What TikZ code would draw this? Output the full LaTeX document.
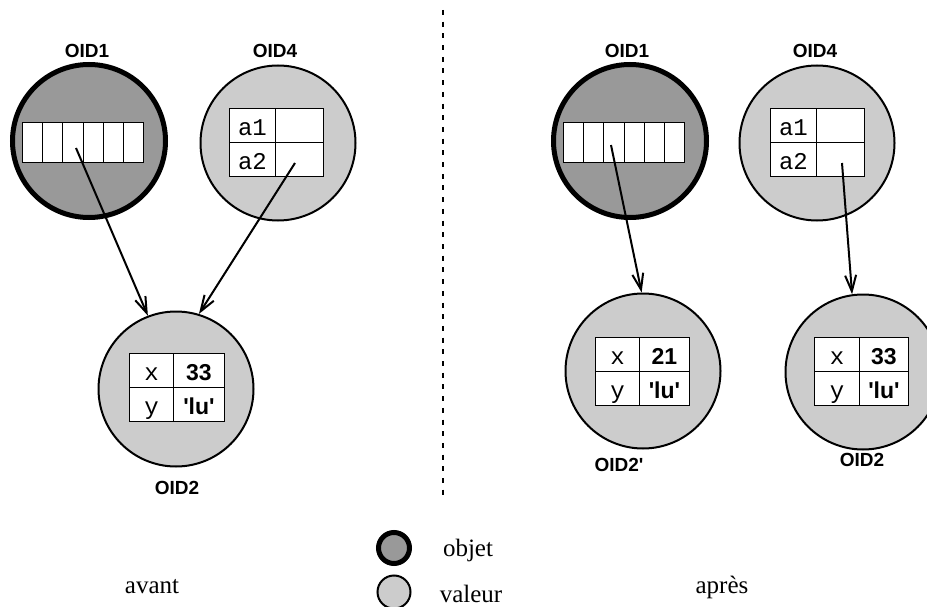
\documentclass[tikz,border=0pt]{standalone}
\usepackage{fontspec}
\setmainfont{Liberation Serif}
\setmonofont{Liberation Mono}
\newfontfamily\lsans{Liberation Sans}
\usetikzlibrary{arrows.meta}
\definecolor{objgray}{RGB}{153,153,153}
\definecolor{valgray}{RGB}{204,204,204}
\tikzset{
  objcirc/.style={circle,draw=black,line width=5pt,fill=objgray,minimum size=153pt,inner sep=0pt},
  valcirc/.style={circle,draw=black,line width=2pt,fill=valgray,minimum size=155pt,inner sep=0pt},
  cell/.style={rectangle,draw=black,line width=0.9pt,fill=white,inner sep=0pt,anchor=north west,minimum height=34pt,text height=20pt,text depth=0pt},
  acell/.style={rectangle,draw=black,line width=0.9pt,fill=white,inner sep=0pt,anchor=north west,minimum height=40pt,minimum width=20.2pt},
  lab/.style={font=\ttfamily\fontsize{24}{24}\selectfont},
  val/.style={font=\lsans\bfseries\fontsize{23}{23}\selectfont},
  oid/.style={font=\lsans\bfseries\fontsize{19}{19}\selectfont},
  txt/.style={font=\fontsize{25}{25}\selectfont,anchor=base},
  link/.style={line width=2pt,-{Straight Barb[length=16pt,width=11pt,line width=2pt]}},
  sep/.style={line width=1.2pt,dash pattern=on 5pt off 6.7pt}
}
% #1 prefix, #2 left x, #3 top y, #4 label width, #5 value width, #6 tl, #7 tv, #8 bl, #9 bv
\newcommand\mkrec[9]{%
  \node[cell,minimum width=#4pt,lab] (#1la) at (#2,#3) {#6};
  \node[cell,minimum width=#5pt,val] (#1va) at (#2+#4,#3) {#7};
  \node[cell,minimum width=#4pt,lab] (#1lb) at (#2,#3+34) {#8};
  \node[cell,minimum width=#5pt,val] (#1vb) at (#2+#4,#3+34) {#9};
}
\newcommand\mkarr[3]{%
  \foreach \k in {0,...,5}{\node[acell] (#1\k) at (#2+\k*20.2,#3) {};}
}
\begin{document}
\begin{tikzpicture}[x=1pt,y=-1pt]
\useasboundingbox (0,0) rectangle (927,607);
\begin{scope}
\clip (0,0) rectangle (927,607);
% left side (avant)
\node[objcirc] (LO1) at (89,141) {};
\node[valcirc] (LO4) at (278,143) {};
\node[valcirc] (LO2) at (176,389) {};
\mkarr{la}{22}{122}
\mkrec{lr4}{229}{108}{46}{48}{a1}{}{a2}{}
\mkrec{lr2}{129}{353}{44}{51}{x}{33}{y}{'lu'}
\node[oid] (tLO1) at (87,51) {OID1};
\node[oid] (tLO4) at (275,51) {OID4};
\node[oid] (tLO2) at (177,488) {OID2};
\coordinate (s1) at (76,148);
\coordinate (s2) at (295,163);
\draw[link] (s1) -- (LO2.111);
\draw[link] (s2) -- (LO2.73);
% separator
\coordinate (d1) at (443,10);
\coordinate (d2) at (443,497);
\draw[sep] (d1) -- (d2);
% right side (apres)
\node[objcirc] (RO1) at (630,141) {};
\node[valcirc] (RO4) at (817,143) {};
\node[valcirc] (RO2p) at (643,371) {};
\node[valcirc] (RO2) at (863,372) {};
\mkarr{ra}{563}{122}
\mkrec{rr4}{770}{108}{46}{48}{a1}{}{a2}{}
\mkrec{rr2p}{595}{337}{44}{50}{x}{21}{y}{'lu'}
\mkrec{rr2}{814}{337}{45}{49}{x}{33}{y}{'lu'}
\node[oid] (tRO1) at (627,51) {OID1};
\node[oid] (tRO4) at (815,51) {OID4};
\node[oid] (tRO2p) at (619,465) {OID2'};
\node[oid] (tRO2) at (862,460) {OID2};
\coordinate (s3) at (611,145);
\coordinate (s4) at (842,163);
\draw[link] (s3) -- (RO2p.91);
\draw[link] (s4) -- (RO2.98);
% legend
\node[circle,draw=black,line width=5pt,fill=objgray,minimum size=31pt,inner sep=0pt] (lgo) at (394,548) {};
\node[circle,draw=black,line width=2pt,fill=valgray,minimum size=33pt,inner sep=0pt] (lgv) at (394,592) {};
\node[txt] (tobj) at (468,556) {objet};
\node[txt] (tval) at (471,602) {valeur};
\node[txt] (tav) at (152,593) {avant};
\node[txt] (tap) at (722,593) {après};
\end{scope}
\end{tikzpicture}
\end{document}
